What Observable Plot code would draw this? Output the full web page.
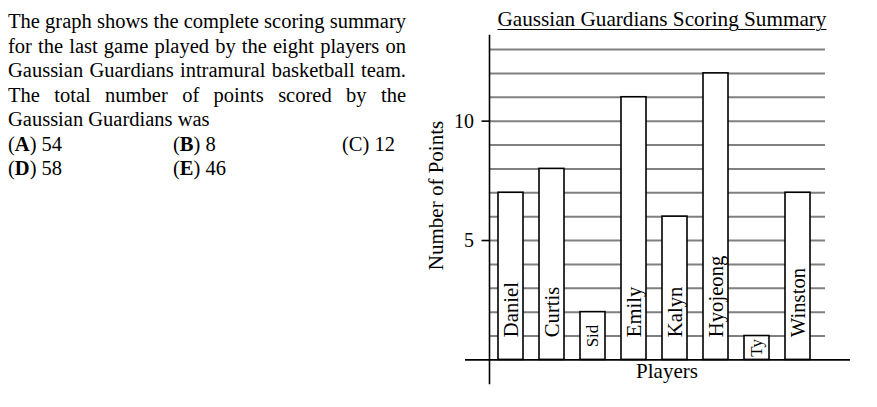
<!DOCTYPE html>
<html><head><meta charset="utf-8">
<script src="https://cdn.jsdelivr.net/npm/d3@7"></script>
<script src="https://cdn.jsdelivr.net/npm/@observablehq/plot@0.6"></script>
<style>
body{margin:0;background:#fff;width:877px;height:407px;position:relative;overflow:hidden;font-family:"Liberation Serif","Times New Roman",serif;color:#000}
#q{position:absolute;left:8px;top:9px;width:398px;font-size:20.5px;line-height:24.6px}
#q .j{text-align:justify;text-align-last:justify;white-space:nowrap}
#q .opt{position:relative;height:24px}
#q .opt span{position:absolute;top:0}
#title{position:absolute;left:462px;top:9px;width:400px;text-align:center;font-size:21.2px;line-height:21px;text-decoration:underline;text-underline-offset:3px;text-decoration-thickness:1px}
#chart{position:absolute;left:420px;top:30px}
</style></head>
<body>
<div id="q">
<div class="j">The graph shows the complete scoring summary</div>
<div class="j">for the last game played by the eight players on</div>
<div class="j">Gaussian Guardians intramural basketball team.</div>
<div class="j">The total number of points scored by the</div>
<div>Gaussian Guardians was</div>
<div class="opt"><span style="left:0">(<b>A</b>) 54</span><span style="left:165px">(<b>B</b>) 8</span><span style="left:334px">(C) 12</span></div>
<div class="opt"><span style="left:0">(<b>D</b>) 58</span><span style="left:165px">(<b>E</b>) 46</span></div>
</div>
<div id="title">Gaussian Guardians Scoring Summary</div>
<div id="chart"></div>
<script>
const players = ["Daniel","Curtis","Sid","Emily","Kalyn","Hyojeong","Ty","Winston"];
const points = [7, 8, 2, 11, 6, 12, 1, 7];
const yTicks = [5, 10];
const gridLines = [1,2,3,4,5,6,7,8,9,10,11,12,13];
const yLabel = "Number of Points";
const xLabel = "Players";

const data = players.map((p, i) => ({player: p, points: points[i]}));

const chart = Plot.plot({
  width: 440, height: 370,
  marginTop: 5, marginBottom: 17, marginLeft: 69, marginRight: 35,
  style: {fontFamily: "'Liberation Serif', 'Times New Roman', serif", background: "transparent", color: "black"},
  x: {type: "band", domain: players, range: [70.1, 398.1], paddingInner: 0.4, paddingOuter: 0.2, axis: null},
  y: {domain: [0, 13], range: [329.4, 19], axis: null},
  marks: [
    Plot.ruleY(gridLines, {stroke: "#808080", strokeWidth: 2}),
    Plot.barY(data, {x: "player", y: "points", fill: "white", stroke: "black", strokeWidth: 1.6}),
    Plot.ruleY([0], {stroke: "black", strokeWidth: 1.6, insetLeft: -24, insetRight: -25}),
    Plot.frame({anchor: "left", stroke: "black", strokeWidth: 1.6}),
    Plot.axisY(yTicks, {tickSize: 7.5, tickPadding: 8, fontSize: 20, label: null, strokeWidth: 1.6}),
    Plot.text(data.filter(d => d.points >= 3), {x: "player", y: 0, text: "player", rotate: -90, textAnchor: "start", lineAnchor: "middle", dy: -22.7, fontSize: 20.7}),
    Plot.text(data.filter(d => d.points < 3), {x: "player", y: d => d.points / 2, text: "player", rotate: -90, textAnchor: "middle", lineAnchor: "middle", fontSize: 17}),
    Plot.text([yLabel], {frameAnchor: "left", rotate: -90, textAnchor: "middle", lineAnchor: "middle", dx: -53.5, dy: -14, fontSize: 21}),
    Plot.text([xLabel], {frameAnchor: "bottom", textAnchor: "middle", lineAnchor: "middle", dx: 9.5, dy: -12, fontSize: 21})
  ]
});
document.getElementById("chart").appendChild(chart);
</script>
</body></html>
